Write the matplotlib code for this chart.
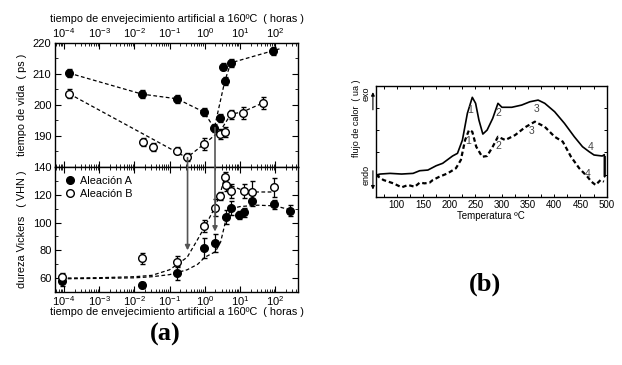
import numpy as np
import matplotlib
matplotlib.use("Agg")
import matplotlib.pyplot as plt
from matplotlib.patches import ConnectionPatch
from matplotlib.ticker import LogLocator, MultipleLocator, NullFormatter, LogFormatterSciNotation

plt.rcParams["font.family"] = ["Liberation Sans", "DejaVu Sans"]
plt.rcParams["mathtext.fontset"] = "custom"
plt.rcParams["mathtext.rm"] = "Liberation Sans"
plt.rcParams["mathtext.it"] = "Liberation Sans"

# ---- panel (a): lifetime (top) ----
ta_logt = [-3.86, -1.78, -0.79, -0.02, 0.27, 0.43, 0.57, 0.52, 0.74, 1.94]
ta_val = [210.3, 203.5, 202.0, 197.7, 192.7, 195.7, 207.8, 212.4, 213.6, 217.4]
ta_err = [1.3, 1.2, 1.2, 1.3, 1.3, 1.3, 1.2, 1.2, 1.2, 1.2]
tb_logt = [-3.85, -1.76, -1.48, -0.80, -0.51, -0.02, 0.43, 0.57, 0.74, 1.08, 1.66]
tb_val = [203.6, 188.0, 186.4, 185.3, 183.2, 187.4, 190.6, 191.3, 197.0, 197.5, 200.7]
tb_err = [1.5, 1.3, 1.3, 1.2, 1.2, 2.0, 1.5, 1.5, 1.5, 2.0, 2.0]
# dashed guide lines (top)
ta_fit_x = [-3.86, -1.78, -0.79, -0.02, 0.27, 0.57, 0.74, 2.15]
ta_fit_y = [210.3, 203.5, 202.0, 197.7, 192.5, 207.8, 213.6, 218.2]
tb_fit_x = [-3.85, -0.51, -0.02, 0.45, 0.74, 1.08, 1.66]
tb_fit_y = [203.6, 183.0, 187.4, 191.8, 197.0, 197.8, 200.7]

# ---- panel (a): hardness (bottom) ----
ha_logt = [-4.07, -1.78, -0.80, -0.02, 0.29, 0.59, 0.74, 0.96, 1.11, 1.35, 1.98, 2.42]
ha_val = [58.0, 55.0, 63.8, 81.8, 85.0, 104.2, 110.2, 105.4, 107.3, 115.7, 113.0, 108.5]
ha_err = [4, 2, 5, 7, 6.5, 5, 5, 3, 3, 4, 3, 4]
hb_logt = [-4.07, -1.78, -0.80, -0.02, 0.29, 0.44, 0.57, 0.59, 0.74, 1.11, 1.35, 1.98]
hb_val = [60.5, 74.2, 71.8, 97.5, 110.7, 119.3, 132.6, 127.0, 123.0, 123.0, 122.2, 125.4]
hb_err = [3, 4, 4, 4, 6, 3, 4, 4, 5, 5, 8, 7]
ha_fit_x = [-4.07, -3, -2, -1.5, -1, -0.5, -0.2, 0.0, 0.3, 0.45, 0.6, 0.75, 1.0, 1.5, 2.0, 2.45]
ha_fit_y = [59.5, 59.8, 60.2, 61, 62.5, 66, 70, 75, 79, 86, 102, 110, 111.5, 112.5, 112, 109]
hb_fit_x = [-4.07, -3, -2, -1.5, -1, -0.5, -0.2, 0.0, 0.29, 0.45, 0.57, 0.7, 1.0, 1.4, 1.98]
hb_fit_y = [60, 60.3, 61, 62, 66, 75, 88, 97, 111, 122, 133, 127, 124, 122, 122]
decades = [1e-4, 1e-3, 1e-2, 1e-1, 1e0, 1e1, 1e2]

# arrows linking minima of lifetime to hardness
arrow_logt = [-0.49, 0.29]
arrow_from = [183.0, 192.7]
arrow_to = [80.0, 93.5]

# ---- panel (b): DSC ----
s_T = [60.5, 68.6, 87.4, 109.4, 131.2, 143.8, 159.4, 175.2, 187.6, 206.4, 215.8, 225.2, 234.6,
       244.0, 250.3, 256.6, 264.1, 272.2, 282.9, 292.9, 300.4, 319.2, 338.0, 353.8, 369.4,
       382.0, 400.8, 419.5, 438.3, 453.9, 466.5, 475.9, 491.5, 495.5, 496.0, 496.5]
s_v = [1.96, 2.05, 2.11, 2.05, 2.11, 2.35, 2.41, 2.80, 3.02, 3.68, 3.92, 5.12, 7.53,
       8.98, 8.44, 6.93, 5.66, 6.02, 7.08, 8.44, 8.08, 8.08, 8.28, 8.58, 8.73,
       8.44, 7.68, 6.63, 5.42, 4.52, 4.07, 3.77, 3.68, 3.80, 1.80, 3.60]
d_T = [60.5, 74.8, 93.6, 109.4, 121.8, 134.4, 143.8, 153.2, 162.6, 168.8, 181.4, 197.0, 212.8,
       222.2, 230.3, 237.8, 244.0, 251.5, 262.8, 272.2, 282.9, 292.9, 306.8, 325.6, 344.4,
       363.2, 382.0, 400.8, 416.4, 432.0, 447.7, 463.3, 470.9, 478.9, 488.3, 494.7]
d_v = [1.96, 1.51, 1.21, 0.85, 1.06, 0.90, 1.27, 1.21, 1.27, 1.51, 1.81, 2.11, 2.57,
       3.32, 5.12, 6.03, 5.87, 4.52, 3.61, 3.68, 4.52, 5.42, 5.12, 5.57, 6.27,
       6.78, 6.32, 5.42, 4.97, 3.61, 2.57, 1.81, 1.36, 1.06, 1.51, 1.36]
peak_labels = ["1", "2", "3", "4"]
s_lab_T = [240.6, 294.1, 365.9, 469.7]
s_lab_v = [7.83, 7.53, 7.92, 4.52]
d_lab_T = [236.8, 294.1, 357.0, 462.8]
d_lab_v = [5.00, 4.58, 5.93, 2.02]

fig = plt.figure(figsize=(6.22, 3.65), dpi=100)
ax1 = fig.add_axes([0.0884, 0.5425, 0.3907, 0.3397])
ax2 = fig.add_axes([0.0884, 0.2000, 0.3907, 0.3425])
ax3 = fig.add_axes([0.6040, 0.4610, 0.3714, 0.3033])

xl = (10 ** -4.256, 10 ** 2.648)
tick_fs = 8
lab_fs = 7.8
xlabel = "tiempo de envejecimiento artificial a 160ºC  ( horas )"
dash = (0, (3, 2))
mk = dict(marker="o", ms=5.5, mew=1.0, mec="black", ls="none", ecolor="black",
          elinewidth=0.9, capsize=1.8, capthick=0.9)


def t(v):
    return [10 ** x for x in v]


for ax in (ax1, ax2):
    ax.set_xscale("log")
    ax.set_xlim(*xl)
    ax.set_xticks(decades)
    ax.xaxis.set_major_formatter(LogFormatterSciNotation())
    ax.xaxis.set_minor_locator(LogLocator(base=10, subs=np.arange(2, 10), numticks=12))
    ax.xaxis.set_minor_formatter(NullFormatter())
    ax.tick_params(which="both", direction="in", top=True, right=True, labelsize=tick_fs, pad=2.5)
    ax.tick_params(which="major", length=4, width=0.8)
    ax.tick_params(which="minor", length=2, width=0.6)
    for s in ax.spines.values():
        s.set_linewidth(1.0)

# top
ax1.plot(t(ta_fit_x), ta_fit_y, color="black", lw=0.9, ls=dash)
ax1.plot(t(tb_fit_x), tb_fit_y, color="black", lw=0.9, ls=dash)
ax1.errorbar(t(ta_logt), ta_val, yerr=ta_err, mfc="black", clip_on=False, zorder=3, **mk)
ax1.errorbar(t(tb_logt), tb_val, yerr=tb_err, mfc="white", clip_on=False, zorder=3, **mk)
ax1.set_ylim(180, 220)
ax1.set_yticks([190, 200, 210, 220])
ax1.yaxis.set_minor_locator(MultipleLocator(5))
ax1.tick_params(labelbottom=False, labeltop=True)
ax1.xaxis.set_label_position("top")
ax1.set_xlabel(xlabel, fontsize=lab_fs, labelpad=3)
ax1.set_ylabel("tiempo de vida  ( ps )", fontsize=lab_fs, labelpad=4)

# bottom
ax2.plot(t(ha_fit_x), ha_fit_y, color="black", lw=0.9, ls=dash)
ax2.plot(t(hb_fit_x), hb_fit_y, color="black", lw=0.9, ls=dash)
ax2.errorbar(t(ha_logt), ha_val, yerr=ha_err, mfc="black", zorder=3, label="Aleación A", **mk)
ax2.errorbar(t(hb_logt), hb_val, yerr=hb_err, mfc="white", zorder=3, label="Aleación B", **mk)
ax2.set_ylim(50, 140)
ax2.set_yticks([60, 80, 100, 120, 140])
ax2.yaxis.set_minor_locator(MultipleLocator(10))
ax2.tick_params(axis="x", which="both", pad=1.5)
ax2.set_xlabel(xlabel, fontsize=lab_fs, labelpad=-0.5)
ax2.set_ylabel("dureza Vickers   ( VHN )", fontsize=lab_fs, labelpad=4)
h, l = ax2.get_legend_handles_labels()
h = [hh[0] for hh in h]
ax2.legend(h, l, loc="upper left", frameon=False, fontsize=lab_fs, handletextpad=0.3,
           handlelength=1.2, borderaxespad=0.4, labelspacing=0.3)

for x, y0, y1 in zip(arrow_logt, arrow_from, arrow_to):
    con = ConnectionPatch(xyA=(10 ** x, y0), coordsA=ax1.transData,
                          xyB=(10 ** x, y1), coordsB=ax2.transData,
                          arrowstyle="-|>", color="#555555", lw=1.2,
                          mutation_scale=7, shrinkA=0, shrinkB=0, zorder=5)
    fig.add_artist(con)

# panel (b)
ax3.plot(s_T, s_v, color="black", lw=1.2)
ax3.plot(d_T, d_v, color="black", lw=1.6, ls=(0, (2, 1.3)))
for lab, x, y in zip(peak_labels, s_lab_T, s_lab_v):
    ax3.text(x, y, lab, fontsize=7.5, color="#444444", ha="center", va="center")
for lab, x, y in zip(peak_labels, d_lab_T, d_lab_v):
    ax3.text(x, y, lab, fontsize=7.5, color="#444444", ha="center", va="center")
ax3.set_xlim(60, 498)
ax3.set_ylim(0, 10)
ax3.set_xticks(range(100, 501, 50))
ax3.xaxis.set_minor_locator(MultipleLocator(25))
ax3.set_yticks([2, 4, 6, 8])
ax3.tick_params(which="both", direction="in", top=True, right=True, length=2.5, width=0.7,
                labelsize=7, pad=2)
ax3.tick_params(axis="y", labelleft=False)
for s in ax3.spines.values():
    s.set_linewidth(1.0)
ax3.set_xlabel("Temperatura ºC", fontsize=7, labelpad=1)
ax3.text(-0.081, 0.71, "flujo de calor  ( ua )", transform=ax3.transAxes, rotation=90,
         fontsize=6.5, ha="center", va="center")
ax3.text(-0.04, 0.93, "exo", transform=ax3.transAxes, rotation=90, fontsize=6.5,
         ha="center", va="center")
ax3.text(-0.04, 0.20, "endo", transform=ax3.transAxes, rotation=90, fontsize=6.5,
         ha="center", va="center")
ax3.annotate("", xy=(-0.012, 0.97), xytext=(-0.012, 0.76), xycoords="axes fraction",
             arrowprops=dict(arrowstyle="-|>", color="black", lw=0.8, mutation_scale=5),
             annotation_clip=False)
ax3.annotate("", xy=(-0.012, 0.04), xytext=(-0.012, 0.26), xycoords="axes fraction",
             arrowprops=dict(arrowstyle="-|>", color="black", lw=0.8, mutation_scale=5),
             annotation_clip=False)

fig.text(165 / 622, 1 - 334 / 365, "(a)", fontsize=19, fontweight="bold",
         family="Liberation Serif", ha="center", va="center")
fig.text(485 / 622, 1 - 284 / 365, "(b)", fontsize=19, fontweight="bold",
         family="Liberation Serif", ha="center", va="center")

fig.savefig("out.png", dpi=100)
